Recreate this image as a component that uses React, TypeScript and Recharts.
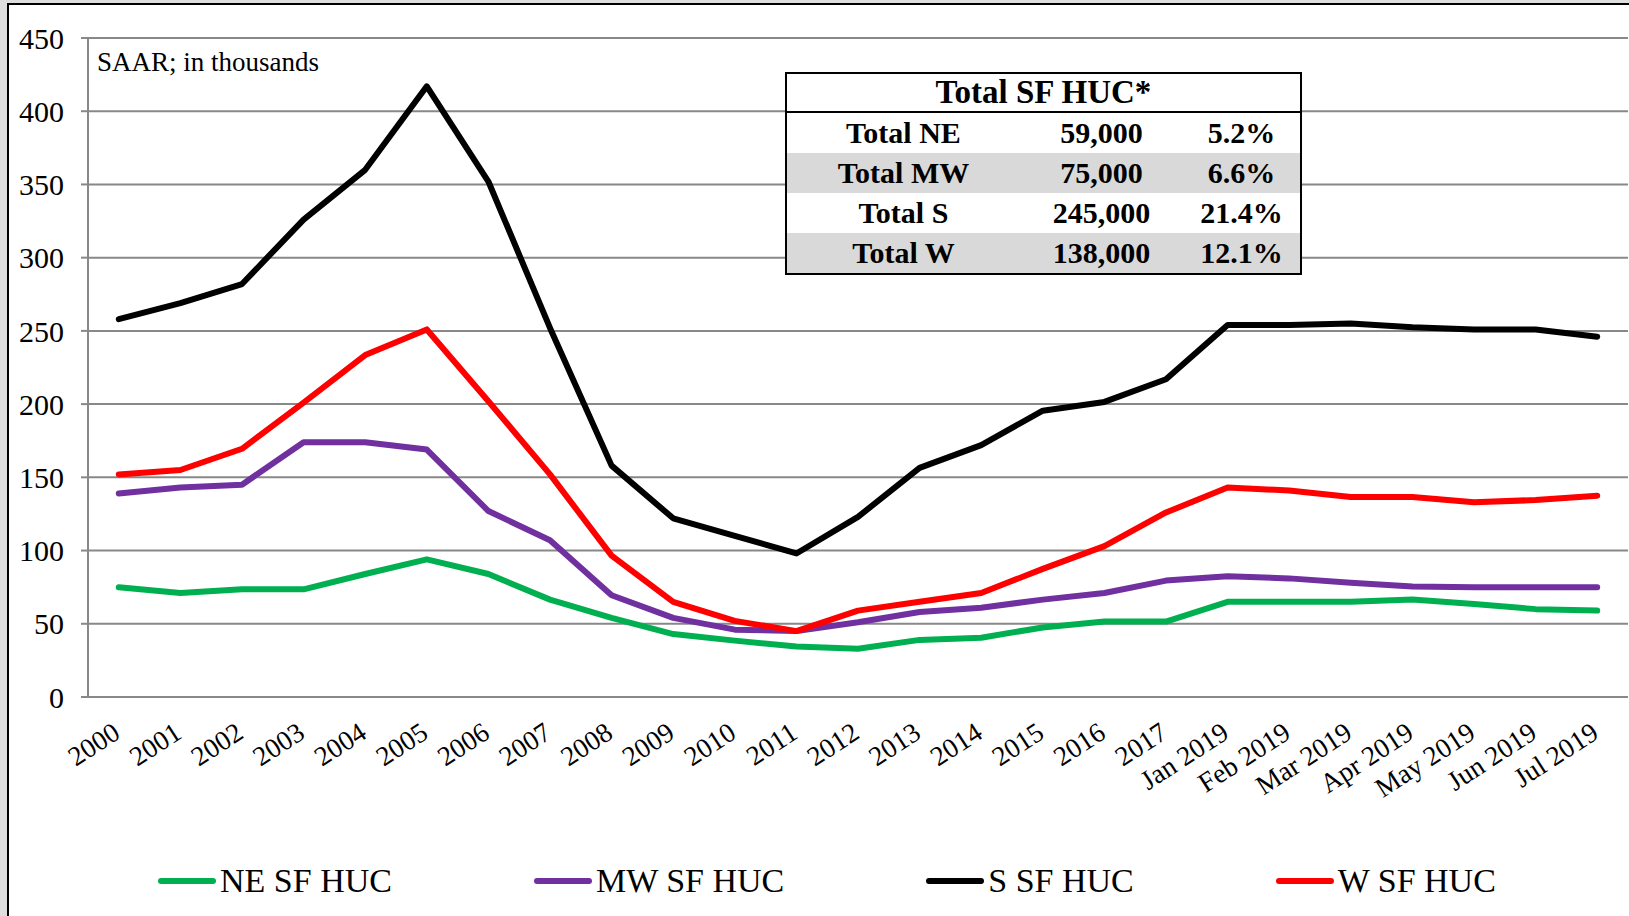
import React from 'react';
import { LineChart, Line, XAxis, YAxis, CartesianGrid, Legend } from 'recharts';

const FONT = '"Liberation Serif", "Times New Roman", Times, serif';

const categories = [
  '2000', '2001', '2002', '2003', '2004', '2005', '2006', '2007', '2008', '2009',
  '2010', '2011', '2012', '2013', '2014', '2015', '2016', '2017',
  'Jan 2019', 'Feb 2019', 'Mar 2019', 'Apr 2019', 'May 2019', 'Jun 2019', 'Jul 2019',
];

const neValues = [75, 71, 73.5, 73.5, 84, 94, 84, 66.5, 54, 43, 38.5, 34.5, 33, 39, 40.5, 47.5, 51.5, 51.5, 65, 65, 65, 66.5, 63.5, 60, 59];
const mwValues = [139, 143, 145, 174, 174, 169, 127, 107, 69.5, 54, 46, 45, 51, 58, 61, 66.5, 71, 79.5, 82.5, 81, 78, 75.5, 75, 75, 75];
const sValues = [258, 269, 282, 326, 360, 417, 352, 252, 158, 122, 110, 98, 123, 156.5, 172, 195.5, 201.5, 217, 254, 254, 255, 252.5, 251, 251, 246];
const wValues = [152, 155, 169.5, 201, 233.5, 251, 202, 152, 96.5, 65, 52, 45, 59, 65, 71, 87.5, 103, 126, 143, 141, 136.5, 136.5, 133, 134.5, 137.5];

const seriesKeys = ['ne', 'mw', 's', 'w'];
const seriesNames = ['NE SF HUC', 'MW SF HUC', 'S SF HUC', 'W SF HUC'];
const seriesColors = ['#00B050', '#7030A0', '#000000', '#FF0000'];

const yTicks = [0, 50, 100, 150, 200, 250, 300, 350, 400, 450];

const tableTitle = 'Total SF HUC*';
const tableLabels = ['Total NE', 'Total MW', 'Total S', 'Total W'];
const tableValues = ['59,000', '75,000', '245,000', '138,000'];
const tablePercents = ['5.2%', '6.6%', '21.4%', '12.1%'];

const noteText = 'SAAR; in thousands';

const data = categories.map((c, i) => ({
  idx: i,
  label: c,
  ne: neValues[i],
  mw: mwValues[i],
  s: sValues[i],
  w: wValues[i],
}));

const centerTicks = categories.map((_, i) => i);
const boundaryTicks = categories.map((_, i) => i - 0.5).concat([categories.length - 0.5]);

const XTick = (props: any) => {
  const { x, y, payload } = props;
  const label = categories[Math.round(payload.value)];
  if (label === undefined) return null;
  return (
    <g transform={`translate(${x + 3},${y + 40})`}>
      <text
        x={0}
        y={0}
        textAnchor="end"
        transform="rotate(-33)"
        fontSize={27.5}
        fontFamily={FONT}
        fill="#000"
      >
        {label}
      </text>
    </g>
  );
};

const renderLegend = () => (
  <div style={{ display: 'flex', alignItems: 'center', paddingLeft: 158, gap: 142, height: 40 }}>
    {seriesNames.map((n, i) => (
      <div key={n} style={{ display: 'flex', alignItems: 'center', height: 40 }}>
        <svg width={58} height={12} style={{ display: 'block' }}>
          <line x1={3} y1={6} x2={55} y2={6} stroke={seriesColors[i]} strokeWidth={6} strokeLinecap="round" />
        </svg>
        <span style={{ marginLeft: 4, fontSize: 34, fontFamily: FONT, lineHeight: '40px', color: '#000', whiteSpace: 'nowrap' }}>
          {n}
        </span>
      </div>
    ))}
  </div>
);

const cellBase: React.CSSProperties = {
  display: 'flex',
  alignItems: 'center',
  justifyContent: 'center',
  height: 40,
  lineHeight: '40px',
  fontSize: 30,
  fontWeight: 'bold',
  fontFamily: FONT,
  color: '#000',
  whiteSpace: 'nowrap',
};

export default function App() {
  return (
    <div style={{ position: 'relative', width: 1629, height: 916, overflow: 'hidden', background: '#dedede' }}>
      <style>{`body{margin:0;background:#dedede;}`}</style>
      <div
        style={{
          position: 'absolute',
          left: 7,
          top: 3,
          width: 1640,
          height: 930,
          background: '#fff',
          borderLeft: '2px solid #000',
          borderTop: '2px solid #000',
        }}
      />
      <div style={{ position: 'absolute', left: 0, top: 0 }}>
        <LineChart
          width={1629}
          height={916}
          data={data}
          margin={{ top: 38, right: 1, left: 0, bottom: 0 }}
        >
          <CartesianGrid vertical={false} stroke="#888" strokeWidth={2} />
          <XAxis
            xAxisId="bounds"
            type="number"
            dataKey="idx"
            domain={[-0.5, categories.length - 0.5]}
            ticks={boundaryTicks}
            interval={0}
            height={0}
            tick={false}
            tickSize={8}
            axisLine={{ stroke: '#888', strokeWidth: 2 }}
            tickLine={{ stroke: '#888', strokeWidth: 2 }}
            allowDataOverflow
          />
          <XAxis
            xAxisId="labels"
            type="number"
            dataKey="idx"
            domain={[-0.5, categories.length - 0.5]}
            ticks={centerTicks}
            interval={0}
            height={219}
            tickSize={0}
            tickMargin={0}
            axisLine={false}
            tickLine={false}
            tick={<XTick />}
            allowDataOverflow
          />
          <YAxis
            type="number"
            domain={[0, 450]}
            ticks={yTicks}
            interval={0}
            width={88}
            tickSize={7}
            tickMargin={17}
            axisLine={{ stroke: '#888', strokeWidth: 2 }}
            tickLine={{ stroke: '#888', strokeWidth: 2 }}
            tick={{ fontSize: 30, fontFamily: FONT, fill: '#000' }}
            allowDataOverflow
          />
          <Legend
            layout="horizontal"
            verticalAlign="middle"
            align="center"
            content={renderLegend}
            wrapperStyle={{ top: 861, left: 0, width: 1629, margin: 0 }}
          />
          {seriesKeys.map((k, i) => (
            <Line
              key={k}
              xAxisId="labels"
              type="linear"
              dataKey={k}
              name={seriesNames[i]}
              stroke={seriesColors[i]}
              strokeWidth={6}
              strokeLinejoin="round"
              strokeLinecap="round"
              dot={false}
              activeDot={false}
              isAnimationActive={false}
            />
          ))}
        </LineChart>
      </div>
      <svg width={1629} height={916} style={{ position: 'absolute', left: 0, top: 0, pointerEvents: 'none' }}>
        <text x={97} y={71} fontSize={27} fontFamily={FONT} fill="#000">{noteText}</text>
      </svg>
      <div
        style={{
          position: 'absolute',
          left: 785,
          top: 72,
          width: 517,
          boxSizing: 'border-box',
          border: '2px solid #000',
          background: '#fff',
        }}
      >
        <div
          style={{
            ...cellBase,
            height: 37,
            lineHeight: '37px',
            fontSize: 33,
            borderBottom: '2px solid #000',
          }}
        >
          {tableTitle}
        </div>
        {tableLabels.map((lab, i) => (
          <div key={lab} style={{ display: 'flex', background: i % 2 === 1 ? '#d9d9d9' : '#fff' }}>
            <div style={{ ...cellBase, width: 233 }}>{lab}</div>
            <div style={{ ...cellBase, width: 163 }}>{tableValues[i]}</div>
            <div style={{ ...cellBase, flex: 1 }}>{tablePercents[i]}</div>
          </div>
        ))}
      </div>
    </div>
  );
}
